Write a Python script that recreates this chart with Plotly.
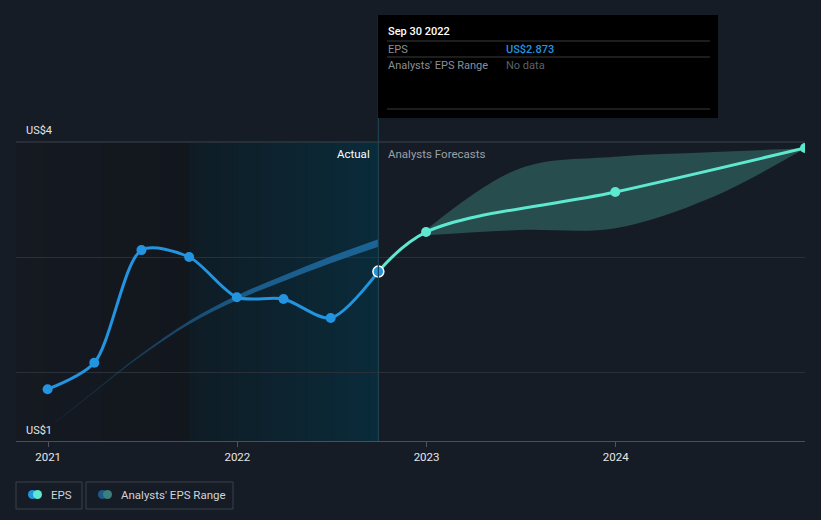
import plotly.graph_objects as go
import pandas as pd

# ---------------- data ----------------
actual_dates = ["2020-12-31", "2021-03-31", "2021-06-30", "2021-09-30",
                "2021-12-31", "2022-03-31", "2022-06-30", "2022-09-30"]
actual_eps = [1.85, 2.08, 3.06, 3.00, 2.65, 2.635, 2.47, 2.873]

forecast_dates = ["2022-09-30", "2022-12-31", "2023-12-31", "2024-12-31"]
forecast_eps = [2.873, 3.217, 3.565, 3.948]

range_dates = ["2022-12-31", "2023-06-30", "2023-12-31", "2024-06-30", "2024-12-31"]
range_low = [3.19, 3.235, 3.25, 3.51, 3.945]
range_high = [3.235, 3.77, 3.872, 3.91, 3.945]

trend_dates = ["2021-01-14", "2021-03-31", "2021-06-30", "2021-09-30",
               "2021-12-31", "2022-03-31", "2022-06-30", "2022-09-30"]
trend_vals = [1.56, 1.83, 2.15, 2.43, 2.645, 2.815, 2.975, 3.122]

year_ticks = ["2021-01-01", "2022-01-01", "2023-01-01", "2024-01-01"]
year_labels = ["2021", "2022", "2023", "2024"]

# ---------------- style ----------------
BG = "#161c26"
BLUE = "#2394df"
AQUA = "#5ee8cf"
FONT = "Roboto"
W, H = 821, 520
ML, MR, MT, MB = 16, 16, 142, 79
PW, PH = W - ML - MR, H - MT - MB
PX_PER_UNIT = PH / (4.0 - 1.4)
trend_width_px = [1.0, 1.3, 2.2, 3.3, 4.6, 5.8, 6.8, 7.6]


def px(xp):
    return (xp - ML) / PW


def py(yp):
    return (H - MB - yp) / PH


fig = go.Figure()
shapes = []
annotations = []


def hexmix(c1, c2, t):
    a = [int(c1[i:i + 2], 16) for i in (1, 3, 5)]
    b = [int(c2[i:i + 2], 16) for i in (1, 3, 5)]
    return "#%02x%02x%02x" % tuple(round(a[k] + (b[k] - a[k]) * t) for k in range(3))


def gradient_band(x0, x1, c0, c1, n=30):
    edges = pd.date_range(pd.Timestamp(x0), pd.Timestamp(x1), periods=n + 1)
    for i in range(n):
        right = edges[i + 1] + (pd.Timedelta(days=2) if i < n - 1 else pd.Timedelta(0))
        shapes.append(dict(type="rect", xref="x", yref="paper",
                           x0=edges[i], x1=right, y0=0, y1=1,
                           fillcolor=hexmix(c0, c1, (i + 0.5) / n),
                           line=dict(width=0), layer="below"))


gradient_band("2020-10-31", "2021-09-30", "#151a22", "#12161d", 12)
gradient_band("2021-09-30", "2022-09-30", "#0f1c25", "#0a2b3a", 48)

# vertical divider at last actual
shapes.append(dict(type="line", xref="x", yref="paper", x0="2022-09-30", x1="2022-09-30",
                   y0=0, y1=py(15), line=dict(color="#1e4250", width=1.2)))

# top border line
shapes.append(dict(type="line", xref="paper", yref="paper", x0=0, x1=1, y0=1, y1=1,
                   line=dict(color="#3c414a", width=1)))

# trend ribbon with fade-in and growing thickness
half = [w / 2 / PX_PER_UNIT for w in trend_width_px]
fig.add_trace(go.Scatter(x=trend_dates, y=[v - h for v, h in zip(trend_vals, half)],
                         mode="lines", line=dict(width=0, shape="spline", color="rgba(0,0,0,0)"),
                         hoverinfo="skip", showlegend=False))
fig.add_trace(go.Scatter(x=trend_dates, y=[v + h for v, h in zip(trend_vals, half)],
                         mode="lines", line=dict(width=0, shape="spline", color="rgba(0,0,0,0)"),
                         fill="tonexty",
                         fillgradient=dict(type="horizontal", colorscale=[
                             [0.0, "rgba(30,106,160,0.12)"],
                             [0.3, "rgba(30,106,160,0.5)"],
                             [0.6, "rgba(30,106,160,0.8)"],
                             [1.0, "rgba(30,106,160,0.9)"]]),
                         hoverinfo="skip", showlegend=False))

# range band
fig.add_trace(go.Scatter(x=range_dates, y=range_low, mode="lines",
                         line=dict(color="rgba(0,0,0,0)", width=0, shape="spline"),
                         hoverinfo="skip", showlegend=False))
fig.add_trace(go.Scatter(x=range_dates, y=range_high, mode="lines",
                         line=dict(color="rgba(0,0,0,0)", width=0, shape="spline"),
                         fill="tonexty", fillcolor="rgba(80,180,165,0.32)",
                         hoverinfo="skip", showlegend=False))

# forecast line
fig.add_trace(go.Scatter(x=forecast_dates, y=forecast_eps, mode="lines",
                         line=dict(color=AQUA, width=3, shape="spline", smoothing=1.0),
                         hoverinfo="skip", showlegend=False))
fig.add_trace(go.Scatter(x=forecast_dates[1:], y=forecast_eps[1:], mode="markers",
                         marker=dict(size=10, color=AQUA, opacity=1, line=dict(width=0)),
                         hoverinfo="skip", showlegend=False))

# actual line
fig.add_trace(go.Scatter(x=actual_dates, y=actual_eps, mode="lines",
                         line=dict(color=BLUE, width=3, shape="spline", smoothing=0.8),
                         hoverinfo="skip", showlegend=False))
fig.add_trace(go.Scatter(x=actual_dates[:-1], y=actual_eps[:-1], mode="markers",
                         marker=dict(size=10, color=BLUE, opacity=1, line=dict(width=0)),
                         hoverinfo="skip", showlegend=False))
fig.add_trace(go.Scatter(x=actual_dates[-1:], y=actual_eps[-1:], mode="markers",
                         marker=dict(size=11, color=BLUE, opacity=1,
                                     line=dict(color="#ffffff", width=1.5)),
                         hoverinfo="skip", showlegend=False))

# axis labels
annotations += [
    dict(text="US$4", x=px(24), y=py(130), xref="paper", yref="paper",
         xanchor="left", yanchor="middle", showarrow=False,
         font=dict(family=FONT, size=11, color="#e6e6e6")),
    dict(text="US$1", x=px(24), y=py(430), xref="paper", yref="paper",
         xanchor="left", yanchor="middle", showarrow=False,
         font=dict(family=FONT, size=11, color="#e6e6e6")),
    dict(text="Actual", x=px(372), y=py(154), xref="paper", yref="paper",
         xanchor="right", yanchor="middle", showarrow=False,
         font=dict(family=FONT, size=11.5, color="#ffffff")),
    dict(text="Analysts Forecasts", x=px(386), y=py(154), xref="paper", yref="paper",
         xanchor="left", yanchor="middle", showarrow=False,
         font=dict(family=FONT, size=11.5, color="#9aa0a8")),
]

# tooltip
shapes.append(dict(type="rect", xref="paper", yref="paper", x0=px(378), x1=px(718),
                   y0=py(118), y1=py(15), fillcolor="#000000", line=dict(width=0)))
for yl in (41, 57, 109):
    shapes.append(dict(type="line", xref="paper", yref="paper", x0=px(387), x1=px(710),
                       y0=py(yl), y1=py(yl), line=dict(color="#3a3a3a", width=1)))
tt = [
    ("Sep 30 2022", 386, 31, "#ffffff", 500),
    ("EPS", 386, 49, "#8a8f96", 400),
    ("US$2.873", 504, 49, BLUE, 500),
    ("Analysts' EPS Range", 386, 66, "#8a8f96", 400),
    ("No data", 504, 66, "#5c6168", 400),
]
for txt, xx, yy, col, wt in tt:
    annotations.append(dict(text=txt, x=px(xx), y=py(yy), xref="paper", yref="paper",
                            xanchor="left", yanchor="middle", showarrow=False,
                            font=dict(family=FONT, size=11, color=col, weight=wt)))

# legend (manual)
for x0, x1 in ((16, 82), (86, 233)):
    shapes.append(dict(type="rect", xref="paper", yref="paper", x0=px(x0), x1=px(x1),
                       y0=py(509), y1=py(482), line=dict(color="#3b4048", width=1),
                       fillcolor="rgba(0,0,0,0)"))
for cx, col in ((32.5, BLUE), (37.5, AQUA), (102.5, "#1d5a88"), (107.5, "#3b807c")):
    shapes.append(dict(type="circle", xref="paper", yref="paper",
                       x0=px(cx - 4.5), x1=px(cx + 4.5), y0=py(499), y1=py(490),
                       fillcolor=col, line=dict(width=0)))
annotations += [
    dict(text="EPS", x=px(49), y=py(495), xref="paper", yref="paper",
         xanchor="left", yanchor="middle", showarrow=False,
         font=dict(family=FONT, size=11.5, color="#d0d3d8")),
    dict(text="Analysts' EPS Range", x=px(119), y=py(495), xref="paper", yref="paper",
         xanchor="left", yanchor="middle", showarrow=False,
         font=dict(family=FONT, size=11.5, color="#d0d3d8")),
]

fig.update_layout(
    width=W, height=H,
    margin=dict(l=ML, r=MR, t=MT, b=MB),
    paper_bgcolor=BG, plot_bgcolor=BG,
    showlegend=False,
    shapes=shapes, annotations=annotations,
    font=dict(family=FONT, color="#e6e6e6"),
    xaxis=dict(type="date", range=["2020-10-31", "2024-12-31"],
               tickvals=year_ticks, ticktext=year_labels,
               ticks="outside", ticklen=5, tickcolor="#50555d",
               showline=True, linecolor="#4a4f57", linewidth=1,
               showgrid=False, zeroline=False,
               tickfont=dict(family=FONT, size=11.5, color="#e6e6e6")),
    yaxis=dict(range=[1.4, 4.0], tickvals=[2, 3], showticklabels=False,
               showgrid=True, gridcolor="#2a3039", gridwidth=1,
               zeroline=False, showline=False),
)

fig.write_html("out.html")
